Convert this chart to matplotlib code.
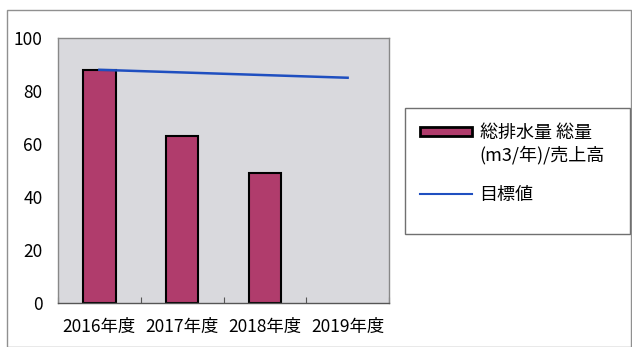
import matplotlib
matplotlib.use("Agg")
import matplotlib.pyplot as plt
from matplotlib.patches import Rectangle, Patch
from matplotlib.lines import Line2D

plt.rcParams['font.family'] = ['Noto Sans CJK JP', 'DejaVu Sans']

categories = ['2016年度', '2017年度', '2018年度', '2019年度']
bar_values = [88, 63, 49, None]
target_values = [88, 87, 86, 85]
yticks = [0, 20, 40, 60, 80, 100]
bar_label_lines = ['総排水量 総量', '(m3/年)/売上高']
line_label = '目標値'

fig = plt.figure(figsize=(6.32, 3.47), dpi=100)
fig.patch.set_facecolor('white')

# outer frame
fig.patches.append(Rectangle((7/632, 0.0), 624/632, (347-10)/347, transform=fig.transFigure,
                             fill=False, edgecolor='#909090', linewidth=1.0))

ax = fig.add_axes([58/632, 44/347, 331/632, 265/347])
ax.set_facecolor('#d9d9dd')

x = list(range(len(categories)))
bx = [i for i, v in zip(x, bar_values) if v is not None]
bv = [v for v in bar_values if v is not None]
ax.bar(bx, bv, width=0.39, color='#b03c6c', edgecolor='black', linewidth=1.5, zorder=2)
ax.plot(x, target_values, color='#1f4fc0', linewidth=1.8, zorder=3)

ax.set_xlim(-0.5, 3.5)
ax.set_ylim(0, 100)
ax.set_yticks(yticks)
ax.set_xticks([i - 0.5 for i in range(5)], minor=False)
ax.set_xticks(x, minor=True)
ax.set_xticklabels([''] * 5)
ax.set_xticklabels(categories, minor=True)
ax.tick_params(axis='x', which='major', length=4, direction='in', color='#555555')
ax.tick_params(axis='x', which='minor', length=0, pad=11, labelsize=12.5)
ax.tick_params(axis='y', length=0, pad=11, labelsize=12.5)
for s in ax.spines.values():
    s.set_color('#555555')
    s.set_linewidth(1.0)
ax.spines['left'].set_color('#888888')
ax.spines['top'].set_color('#888888')
ax.spines['right'].set_color('#888888')

# legend frame
fig.patches.append(Rectangle((405/632, (347-234)/347), 225/632, 126/347, transform=fig.transFigure,
                             fill=False, edgecolor='#707070', linewidth=1.0))
h_bar = Patch(facecolor='#b03c6c', edgecolor='black', linewidth=2.0)
h_blank = Patch(facecolor='none', edgecolor='none')
leg1 = fig.legend([h_bar, h_blank], bar_label_lines, loc='upper left',
                  bbox_to_anchor=(411/632, (347-115)/347), frameon=False,
                  fontsize=13, handlelength=2.9, handleheight=0.45, labelspacing=0.2,
                  handletextpad=0.4, borderpad=0)
h_line = Line2D([0], [0], color='#1f4fc0', linewidth=1.5)
leg2 = fig.legend([h_line], [line_label], loc='center left',
                  bbox_to_anchor=(411/632, (347-195)/347), frameon=False,
                  fontsize=13, handlelength=2.9, handleheight=0.45,
                  handletextpad=0.4, borderpad=0)

fig.savefig('out.png', dpi=100)
